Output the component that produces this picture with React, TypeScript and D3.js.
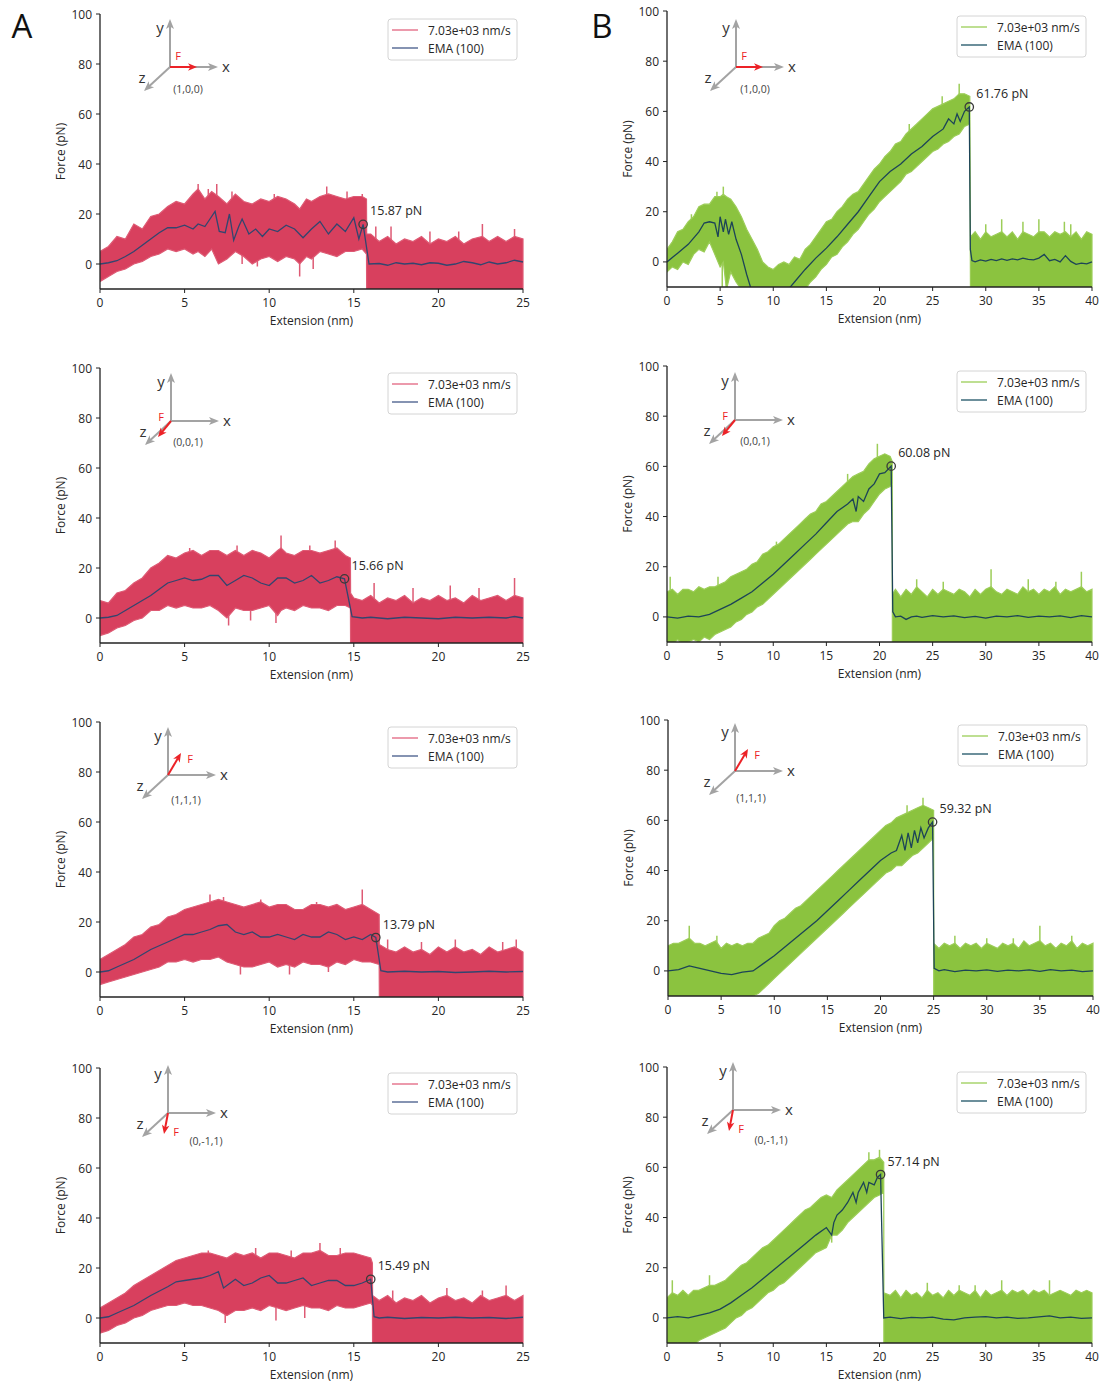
import React from "react";
import * as d3 from "d3";

type Band = [number, number, number][]; // [extension, low, high]
type Pt = [number, number];
type Spike = [number, number, number]; // [extension, base, tip]

// ---------- tick labels ----------
const yTicks = [0, 20, 40, 60, 80, 100];
const xTicksA = [0, 5, 10, 15, 20, 25];
const xTicksB = [0, 5, 10, 15, 20, 25, 30, 35, 40];
const legendLabels = ["7.03e+03 nm/s", "EMA (100)"];

// ---------- peaks [x, force] ----------
const peakA1: Pt = [15.55, 15.87];
const peakA2: Pt = [14.45, 15.66];
const peakA3: Pt = [16.3, 13.79];
const peakA4: Pt = [16.0, 15.49];
const peakB1: Pt = [28.45, 61.76];
const peakB2: Pt = [21.1, 60.08];
const peakB3: Pt = [24.9, 59.32];
const peakB4: Pt = [20.1, 57.14];

// ---------- pulling directions ----------
const dirLabels = ["(1,0,0)", "(0,0,1)", "(1,1,1)", "(0,-1,1)"];

// ---------- noise envelopes ----------
const bandA1: Band = [
  [0,-7,5],[0.5,-5,7],[1,-3,11],[1.5,-2,10],[2,0,16],[2.5,1,14],[3,3,19],[3.5,4,20],[4,6,23],[4.5,5,25],[5,6,24],[5.5,4,28],[5.8,5,30],[6.2,3,26],[6.6,6,29],[7,0,27],[7.5,2,24],[8,5,28],[8.5,3,25],[9,0,24],[9.5,2,26],[10,3,25],[10.5,1,27],[11,3,26],[11.5,2,24],[11.8,0,22],[12.2,3,26],[12.5,2,25],[13,5,27],[13.5,4,28],[14,3,27],[14.5,5,26],[15,5,27],[15.5,6,27],[15.75,4,26],
  [15.76,-11,12],[16,-11,12],[16.5,-11,9],[17,-11,11],[17.5,-11,8],[18,-11,10],[18.5,-11,9],[19,-11,11],[19.5,-11,8],[20,-11,10],[20.5,-11,9],[21,-11,11],[21.5,-11,8],[22,-11,10],[22.6,-11,11],[23,-11,9],[23.5,-11,11],[24,-11,9],[24.5,-11,11],[25,-11,10]
];
const bandA2: Band = [
  [0,-7,7],[0.5,-6,6],[1,-4,10],[1.5,-3,11],[2,-1,14],[2.5,0,16],[3,3,20],[3.5,3,22],[4,5,25],[4.5,4,24],[5,5,26],[5.5,4,27],[6,4,25],[6.5,5,27],[7,3,27],[7.5,0,25],[8,4,27],[8.5,3,25],[9,3,27],[9.5,4,26],[10,5,24],[10.5,1,27],[10.7,3,28],[11,4,26],[11.5,3,25],[12,5,27],[12.5,4,27],[13,4,26],[13.5,3,27],[14,5,28],[14.5,5,25],[14.8,4,24],
  [14.81,-11,10],[15,-11,8],[15.5,-11,7],[16,-11,9],[16.5,-11,6],[17,-11,8],[17.5,-11,7],[18,-11,9],[18.5,-11,6],[19,-11,8],[19.5,-11,7],[20,-11,9],[20.5,-11,7],[21,-11,8],[21.5,-11,6],[22,-11,9],[22.5,-11,7],[23,-11,8],[23.5,-11,9],[24,-11,7],[24.5,-11,9],[25,-11,8]
];
const bandA3: Band = [
  [0,-5,5],[0.5,-4,7],[1,-3,9],[1.5,-2,11],[2,-1,14],[2.5,0,15],[3,1,18],[3.5,2,19],[4,4,22],[4.5,4,23],[5,5,25],[5.5,4,26],[6,5,27],[6.5,5,28],[7,6,29],[7.5,4,28],[8,3,27],[8.5,2,26],[9,2,27],[9.5,3,28],[10,4,26],[10.5,2,27],[11,3,27],[11.5,2,25],[12,4,25],[12.5,3,27],[13,3,27],[13.5,2,26],[14,4,27],[14.5,3,25],[15,5,26],[15.5,4,27],[16,4,25],[16.5,3,23],
  [16.51,-11,11],[17,-11,9],[17.5,-11,8],[18,-11,10],[18.5,-11,8],[19,-11,9],[19.5,-11,7],[20,-11,10],[20.5,-11,8],[21,-11,10],[21.5,-11,8],[22,-11,9],[22.5,-11,7],[23,-11,10],[23.5,-11,8],[24,-11,9],[24.5,-11,10],[25,-11,8]
];
const bandA4: Band = [
  [0,-6,4],[0.5,-5,6],[1,-3,8],[1.5,-2,10],[2,0,13],[2.5,1,15],[3,3,17],[3.5,4,19],[4,5,21],[4.5,5,23],[5,6,24],[5.5,5,25],[6,5,26],[6.5,4,26],[7,3,25],[7.5,1,24],[8,3,26],[8.5,3,25],[9,4,26],[9.5,3,24],[10,5,26],[10.5,4,26],[11,3,25],[11.5,4,24],[12,5,26],[12.5,4,26],[13,4,27],[13.5,3,25],[14,5,25],[14.5,4,26],[15,4,26],[15.5,5,25],[16,6,24],[16.1,5,22],
  [16.11,-11,9],[16.5,-11,7],[17,-11,9],[17.5,-11,6],[18,-11,8],[18.5,-11,7],[19,-11,9],[19.5,-11,6],[20,-11,8],[20.5,-11,9],[21,-11,7],[21.5,-11,8],[22,-11,6],[22.5,-11,9],[23,-11,7],[23.5,-11,8],[24,-11,9],[24.5,-11,7],[25,-11,9]
];
const bandB1: Band = [
  [0,-4,5],[0.5,-2,8],[1,-3,12],[1.5,0,13],[2,-1,16],[2.5,3,18],[3,5,22],[3.5,4,23],[4,8,23],[4.5,3,26],[5,-2,26],[5.3,0,27],[5.6,-11,26],[6,-4,25],[6.5,-8,22],[7,-11,18],[7.5,-11,13],[8,-11,9],[8.5,-11,5],[9,-11,0],[9.5,-11,-2],[10,-11,-3],[10.5,-11,-1],[11,-11,0],[11.5,-11,-1],[12,-11,2],[12.5,-11,1],[13,-11,5],[13.5,-8,7],[14,-6,10],[14.5,-3,13],[15,-1,16],[15.5,2,17],[16,3,20],[16.5,6,22],[17,8,25],[17.5,11,27],[18,13,28],[18.5,16,31],[19,19,34],[19.5,21,37],[20,24,39],[20.5,26,42],[21,28,44],[21.5,30,47],[22,32,48],[22.5,35,51],[23,36,53],[23.5,38,55],[24,40,57],[24.5,42,59],[25,44,61],[25.5,45,62],[26,47,63],[26.5,48,64],[27,50,65],[27.5,51,67],[28,54,67],[28.5,55,66],
  [28.56,-11,10],[29,-11,12],[29.5,-11,9],[30,-11,12],[30.5,-11,10],[31,-11,11],[31.5,-11,12],[32,-11,10],[32.5,-11,12],[33,-11,9],[33.5,-11,12],[34,-11,11],[34.5,-11,10],[35,-11,12],[35.5,-11,12],[36,-11,10],[36.5,-11,12],[37,-11,11],[37.5,-11,12],[38,-11,10],[38.5,-11,12],[39,-11,9],[39.5,-11,12],[40,-11,11]
];
const bandB2: Band = [
  [0,-10,10],[0.5,-11,11],[1,-9,9],[1.5,-11,11],[2,-10,11],[2.5,-9,10],[3,-10,12],[3.5,-8,11],[4,-9,12],[4.5,-7,12],[5,-6,13],[5.5,-5,14],[6,-4,16],[6.5,-2,17],[7,-1,18],[7.5,1,19],[8,2,21],[8.5,4,22],[9,5,25],[9.5,7,26],[10,9,28],[10.5,11,29],[11,13,31],[11.5,15,33],[12,17,35],[12.5,19,37],[13,21,39],[13.5,23,41],[14,25,42],[14.5,27,45],[15,29,46],[15.5,31,48],[16,33,50],[16.5,35,52],[17,37,54],[17.5,38,56],[18,38,57],[18.5,41,58],[19,43,61],[19.5,46,63],[20,49,64],[20.5,51,65],[21,52,64],[21.2,53,62],
  [21.21,-11,9],[21.5,-11,11],[22,-11,8],[22.5,-11,11],[23,-11,9],[23.5,-11,12],[24,-11,10],[24.5,-11,8],[25,-11,11],[25.5,-11,9],[26,-11,11],[26.5,-11,10],[27,-11,9],[27.5,-11,11],[28,-11,10],[28.5,-11,8],[29,-11,11],[29.5,-11,9],[30,-11,11],[30.5,-11,12],[31,-11,10],[31.5,-11,9],[32,-11,11],[32.5,-11,10],[33,-11,9],[33.5,-11,12],[34,-11,10],[34.5,-11,11],[35,-11,9],[35.5,-11,11],[36,-11,10],[36.5,-11,12],[37,-11,9],[37.5,-11,11],[38,-11,10],[38.5,-11,11],[39,-11,12],[39.5,-11,10],[40,-11,11]
];
const bandB3: Band = [
  [0,-11,10],[0.5,-11,11],[1,-11,11],[1.5,-11,12],[2,-11,13],[2.5,-11,11],[3,-11,11],[3.5,-11,10],[4,-11,11],[4.5,-11,12],[5,-11,9],[5.5,-11,11],[6,-11,10],[6.5,-11,11],[7,-11,10],[7.5,-11,11],[8,-10,11],[8.5,-9,13],[9,-7,14],[9.5,-5,15],[10,-3,18],[10.5,-1,20],[11,1,21],[11.5,3,23],[12,5,25],[12.5,7,26],[13,9,28],[13.5,11,30],[14,13,32],[14.5,15,34],[15,17,36],[15.5,19,38],[16,21,40],[16.5,23,42],[17,25,44],[17.5,27,46],[18,29,48],[18.5,31,50],[19,33,52],[19.5,35,54],[20,37,56],[20.5,39,58],[21,40,59],[21.5,42,61],[22,42,62],[22.5,44,63],[23,46,64],[23.5,47,65],[24,49,66],[24.5,51,65],[25,53,64],
  [25.01,-11,11],[25.5,-11,9],[26,-11,11],[26.5,-11,10],[27,-11,11],[27.5,-11,9],[28,-11,11],[28.5,-11,10],[29,-11,11],[29.5,-11,9],[30,-11,11],[30.5,-11,10],[31,-11,9],[31.5,-11,11],[32,-11,10],[32.5,-11,11],[33,-11,9],[33.5,-11,12],[34,-11,10],[34.5,-11,11],[35,-11,12],[35.5,-11,10],[36,-11,11],[36.5,-11,9],[37,-11,11],[37.5,-11,10],[38,-11,12],[38.5,-11,9],[39,-11,11],[39.5,-11,10],[40,-11,11]
];
const bandB4: Band = [
  [0,-11,8],[0.5,-11,10],[1,-10,9],[1.5,-11,11],[2,-10,9],[2.5,-11,11],[3,-9,11],[3.5,-8,12],[4,-7,13],[4.5,-6,13],[5,-5,14],[5.5,-4,15],[6,-2,17],[6.5,0,19],[7,1,21],[7.5,3,22],[8,4,24],[8.5,6,26],[9,8,28],[9.5,10,29],[10,11,31],[10.5,13,33],[11,14,35],[11.5,16,37],[12,18,39],[12.5,20,41],[13,22,43],[13.5,24,44],[14,26,46],[14.5,27,48],[15,28,49],[15.5,33,48],[16,33,51],[16.5,35,53],[17,38,55],[17.5,40,57],[18,42,59],[18.5,44,61],[19,46,63],[19.5,48,63],[20,49,64],[20.4,50,62],
  [20.41,-11,10],[21,-11,9],[21.5,-11,11],[22,-11,8],[22.5,-11,11],[23,-11,9],[23.5,-11,10],[24,-11,8],[24.5,-11,11],[25,-11,9],[25.5,-11,10],[26,-11,8],[26.5,-11,11],[27,-11,9],[27.5,-11,11],[28,-11,10],[28.5,-11,9],[29,-11,11],[29.5,-11,8],[30,-11,11],[30.5,-11,9],[31,-11,10],[31.5,-11,11],[32,-11,9],[32.5,-11,11],[33,-11,10],[33.5,-11,11],[34,-11,9],[34.5,-11,11],[35,-11,10],[35.5,-11,11],[36,-11,9],[36.5,-11,10],[37,-11,11],[37.5,-11,10],[38,-11,9],[38.5,-11,11],[39,-11,10],[39.5,-11,11],[40,-11,10]
];

// ---------- isolated noise spikes [x, base, tip] ----------
const spikesA1: Spike[] = [[5.8,20,32],[6.4,20,30],[6.9,20,32],[7.8,18,29],[10.3,18,28],[13.4,18,31],[14.6,18,29],[15.5,18,28],[11.8,8,-5],[12.6,8,-2],[9.3,8,-1],[8.4,8,0],[16.3,0,15],[17.2,0,15],[19.5,0,13],[22.6,0,16],[24.5,0,14],[21.2,0,13]];
const spikesA2: Spike[] = [[5.3,18,28],[8.1,18,29],[10.7,18,33],[12.4,18,29],[13.9,18,31],[7.6,8,-3],[10.4,8,-2],[8.9,8,-1],[16.2,0,14],[20.7,0,13],[24.5,0,16],[18.5,0,12],[22.4,0,12]];
const spikesA3: Spike[] = [[6.5,18,31],[7.3,18,30],[9.5,18,29],[15.5,18,33],[12.8,18,28],[8.3,8,-1],[11.2,8,-1],[13.5,8,0],[17,0,13],[21,0,13],[23.8,0,12],[19,0,12],[24.6,0,13]];
const spikesA4: Spike[] = [[6.4,18,27],[9.2,18,28],[13,18,30],[14.2,18,28],[11.3,18,27],[7.4,8,-2],[10.4,8,-1],[12.1,8,0],[17.3,0,11],[20.5,0,12],[24,0,13],[22.6,0,11]];
const spikesB1: Spike[] = [[2.3,8,19],[5.3,15,30],[4.7,15,28],[5.2,10,-11],[5.6,10,-11],[27.5,58,71],[25.9,55,66],[22.8,45,55],[31.5,0,17],[35,0,17],[33.5,0,16],[38,0,15],[30,0,15],[37.4,0,16]];
const spikesB2: Spike[] = [[19.8,58,69],[17,48,57],[10.3,20,30],[0.3,0,16],[4.8,0,16],[30.5,0,19],[39,0,18],[26,0,14],[34,0,15],[23.5,0,15],[36.6,0,14]];
const spikesB3: Spike[] = [[2,0,18],[4.6,0,14],[24,58,69],[22.5,52,66],[35,0,18],[27,0,14],[30,0,13],[38,0,14],[32.5,0,13]];
const spikesB4: Spike[] = [[0.5,0,15],[4,0,17],[19,55,66],[20,55,67],[15.5,40,30],[31.5,0,15],[36,0,15],[29,0,13],[24.5,0,14],[27.5,0,13]];

// ---------- EMA (100) traces ----------
const emaA1: Pt[] = [
  [0,0],[0.5,0.5],[1,1.3],[1.5,3],[2,5],[2.5,7.5],[3,10],[3.5,12.5],[4,14.5],[4.5,14.5],[5,15.5],[5.5,14],[5.8,16],[6.2,15],[6.5,18],[6.8,21],[7.05,13],[7.4,12.5],[7.65,20],[7.9,9.5],[8.2,15],[8.4,18],[8.8,12],[9.2,14],[9.6,11],[10,14],[10.5,13],[11,15.5],[11.5,14],[12,10.5],[12.5,14],[13,17],[13.5,12],[14,16],[14.5,13],[15,18.5],[15.3,10],[15.55,15.87],[15.9,0],[16.5,0.2],[17,-0.5],[17.5,0.5],[18,0],[18.5,0.3],[19,-0.3],[19.5,0.5],[20,0.3],[20.5,-0.5],[21,0],[21.5,1],[22,0.5],[22.5,-0.3],[23,0.8],[23.5,0],[24,0.5],[24.5,1.5],[25,0.8]
];
const emaA2: Pt[] = [
  [0,0],[0.5,0.3],[1,1],[1.5,3],[2,5],[2.5,7],[3,9],[3.5,11.5],[4,14],[4.5,15],[5,16],[5.5,15],[6,15.5],[6.5,17],[7,17],[7.5,13],[8,15],[8.5,17],[9,16],[9.5,14],[10,13],[10.5,16],[11,16],[11.5,14],[12,15],[12.5,17],[13,14],[13.5,15],[14,16.5],[14.45,15.66],[14.9,0.5],[15.5,0],[16,0.3],[17,-0.3],[18,0.3],[19,0],[20,-0.3],[21,0.3],[22,0],[23,0.3],[24,0],[24.5,0.6],[25,0]
];
const emaA3: Pt[] = [
  [0,0],[0.5,0.5],[1,2],[1.5,3.5],[2,5],[3,9],[4,12],[5,15],[5.5,15],[6,16],[6.5,17],[7,18.5],[7.5,19],[8,16],[8.5,15],[9,16],[9.5,14],[10,14],[10.5,15],[11,14],[11.5,13],[12,15],[12.5,14],[13,14],[13.5,16],[14,15],[14.5,13],[15,14],[15.5,13],[16,15],[16.3,13.79],[16.6,0.5],[17,0],[18,0.3],[19,0],[20,0.2],[21,-0.2],[22,0],[23,0.3],[24,0],[25,0.2]
];
const emaA4: Pt[] = [
  [0,0],[0.5,0.5],[1,2],[2,5],[3,9],[4,12.5],[4.5,14.5],[5,15],[6,16],[6.5,17],[7,18.5],[7.3,12],[7.7,14],[8,15.5],[8.5,13],[9,14],[9.5,16],[10,17],[10.5,14],[11,14],[11.5,15],[12,16],[12.5,13],[13,14],[13.5,15],[14,15],[14.5,13],[15,13],[15.5,14],[16,15.49],[16.2,0.5],[16.5,0],[17,0.3],[18,-0.2],[19,0.2],[20,0],[21,0.3],[22,0],[23,0.2],[24,-0.2],[25,0.3]
];
const emaB1: Pt[] = [
  [0,0],[1,3.5],[2,7],[3,12],[3.5,15.5],[4,16],[4.5,15.5],[4.8,10],[5,18],[5.3,12],[5.5,17],[5.8,11],[6.1,16],[6.5,9],[7,3],[7.5,-5],[8,-12],[9,-18],[10,-20],[11,-16],[11.6,-10],[12,-8],[13,-3],[14,1.5],[15,5.5],[16,10],[17,15],[18,20],[19,26],[20,32],[21,36],[22,39],[23,43],[24,46],[25,50],[26,53],[26.5,57],[27,55],[27.3,59],[27.6,56],[28,60],[28.45,61.76],[28.55,5],[28.7,0.5],[29,0],[29.5,0.8],[30,0.3],[30.5,1],[31,0.5],[31.5,1.2],[32,0.6],[32.5,1.2],[33,0.8],[33.5,1.5],[34,1],[34.5,0.8],[35,1.5],[35.5,3],[36,0.5],[36.5,1],[37,0],[37.5,2.5],[38,0.2],[38.5,-1],[39,-0.5],[39.5,-0.8],[40,0]
];
const emaB2: Pt[] = [
  [0,0],[1,-0.5],[2,0.3],[3,0],[4,1],[5,3],[6,5],[7,7.5],[8,10],[9,13.5],[10,17],[11,21],[12,25],[13,29],[14,33],[15,37.5],[16,42],[17,45],[17.5,47],[17.8,42],[18,48],[18.5,46],[19,51],[19.5,53],[20,57],[20.5,57.5],[21.1,60.08],[21.25,2],[21.5,0],[22,0.3],[22.5,-1],[23,0],[23.5,0.3],[24,-0.2],[25,0.5],[26,0],[27,0.4],[28,-0.3],[29,0.2],[30,-0.5],[31,0.3],[32,0],[33,0.5],[34,-0.2],[35,0.3],[36,0],[37,0.4],[38,-0.3],[39,0.5],[40,0]
];
const emaB3: Pt[] = [
  [0,0],[1,0.5],[2,2],[3,1],[4,0],[5,-1],[6,-1.5],[7,-0.5],[8,0],[9,3],[10,6],[11,9.5],[12,13],[13,16.5],[14,20],[15,24],[16,28],[17,32],[18,36],[19,40],[20,44],[21,47],[21.5,48],[22,54],[22.3,48],[22.6,55],[22.9,49],[23.2,56],[23.5,51],[23.8,57],[24.1,53],[24.5,57],[24.9,59.32],[25.05,1],[25.5,0],[26,0.5],[27,-0.3],[28,0.3],[29,0],[30,0.4],[31,-0.2],[32,0.3],[33,0],[34,0.4],[35,-0.2],[36,0.5],[37,0],[38,0.3],[39,-0.3],[40,0]
];
const emaB4: Pt[] = [
  [0,0],[1,0.5],[2,0],[3,1],[4,2],[5,3.5],[6,6],[7,9],[8,12],[9,15.5],[10,19],[11,22.5],[12,26],[13,29.5],[14,33],[15,36],[15.5,33],[15.7,38],[16,41],[16.5,43],[17,46],[17.5,50],[17.8,46],[18,50],[18.5,54],[18.8,50],[19,54],[19.5,53],[19.8,56],[20.1,57.14],[20.4,0],[21,0.3],[22,-0.3],[23,0.2],[24,0],[25,0.3],[26,-0.5],[27,-0.8],[28,0],[29,0.3],[30,0.5],[31,0],[32,0.3],[33,-0.2],[34,0],[35,0.4],[36,0.8],[37,0],[38,0.3],[39,-0.2],[40,0]
];

// ---------- layout ----------
type PanelCfg = {
  left: number; top: number; w: number; h: number; xMax: number; xTicks: number[];
  band: Band; spikes: Spike[]; ema: Pt[]; peak: Pt; dir: number; icon: [number, number]; dirOff: [number, number];
  col: "A" | "B";
};
const panels: PanelCfg[] = [
  { col: "A", left: 100, top: 14, w: 423, h: 275, xMax: 25, xTicks: xTicksA, band: bandA1, spikes: spikesA1, ema: emaA1, peak: peakA1, dir: 0, icon: [70, 53], dirOff: [18, 22] },
  { col: "A", left: 100, top: 368, w: 423, h: 275, xMax: 25, xTicks: xTicksA, band: bandA2, spikes: spikesA2, ema: emaA2, peak: peakA2, dir: 1, icon: [71, 53], dirOff: [17, 21] },
  { col: "A", left: 100, top: 722, w: 423, h: 275, xMax: 25, xTicks: xTicksA, band: bandA3, spikes: spikesA3, ema: emaA3, peak: peakA3, dir: 2, icon: [68, 53], dirOff: [18, 25] },
  { col: "A", left: 100, top: 1068, w: 423, h: 275, xMax: 25, xTicks: xTicksA, band: bandA4, spikes: spikesA4, ema: emaA4, peak: peakA4, dir: 3, icon: [68, 45], dirOff: [38, 28] },
  { col: "B", left: 667, top: 11, w: 425, h: 276, xMax: 40, xTicks: xTicksB, band: bandB1, spikes: spikesB1, ema: emaB1, peak: peakB1, dir: 0, icon: [69, 56], dirOff: [19, 22] },
  { col: "B", left: 667, top: 366, w: 425, h: 276, xMax: 40, xTicks: xTicksB, band: bandB2, spikes: spikesB2, ema: emaB2, peak: peakB2, dir: 1, icon: [68, 54], dirOff: [20, 21] },
  { col: "B", left: 668, top: 720, w: 425, h: 276, xMax: 40, xTicks: xTicksB, band: bandB3, spikes: spikesB3, ema: emaB3, peak: peakB3, dir: 2, icon: [67, 51], dirOff: [16, 27] },
  { col: "B", left: 667, top: 1067, w: 425, h: 276, xMax: 40, xTicks: xTicksB, band: bandB4, spikes: spikesB4, ema: emaB4, peak: peakB4, dir: 3, icon: [66, 43], dirOff: [38, 30] },
];

const COLORS = {
  A: { band: "#d8405e", edge: "#de5a74", ema: "#33456f", legBand: "#e67990", legEma: "#5d6f99" },
  B: { band: "#8bc33f", edge: "#9ccd58", ema: "#1c4457", legBand: "#a9d46e", legEma: "#3b6a7a" },
};
// force arrow end + F label offset per direction
const fArrows: { end: [number, number]; lab: [number, number] }[] = [
  { end: [27, 0], lab: [8, -12] },
  { end: [-13, 16], lab: [-10, -5] },
  { end: [13, -22], lab: [22, -17] },
  { end: [-4, 21], lab: [8, 18] },
];

const FONT = "'Open Sans', 'Noto Sans', sans-serif";
const TXT = "#262626";

function Arrow({ x2, y2, color, width = 2, head = 10, hw = 4 }: { x2: number; y2: number; color: string; width?: number; head?: number; hw?: number }) {
  const len = Math.hypot(x2, y2);
  const ux = x2 / len, uy = y2 / len;
  const bx = x2 - ux * head, by = y2 - uy * head;
  const px = -uy, py = ux;
  const pts = `${x2},${y2} ${bx + px * hw},${by + py * hw} ${bx + ux * 2.5},${by + uy * 2.5} ${bx - px * hw},${by - py * hw}`;
  return (
    <g>
      <line x1={0} y1={0} x2={bx + ux * 3} y2={by + uy * 3} stroke={color} strokeWidth={width} />
      <polygon points={pts} fill={color} />
    </g>
  );
}

function Icon({ dir, off }: { dir: number; off: [number, number] }) {
  const gray = "#a3a3a3";
  const red = "#ec2227";
  const f = fArrows[dir];
  return (
    <g>
      <Arrow x2={0} y2={-48} color={gray} />
      <Arrow x2={48} y2={0} color={gray} />
      <Arrow x2={-26} y2={24} color={gray} />
      <Arrow x2={f.end[0]} y2={f.end[1]} color={red} head={9} hw={3.8} />
      <text x={-10} y={-40} fontSize={15} fill="#333" textAnchor="middle" dominantBaseline="central" fontFamily={FONT}>y</text>
      <text x={56} y={-1} fontSize={15} fill="#333" textAnchor="middle" dominantBaseline="central" fontFamily={FONT}>x</text>
      <text x={-28} y={10} fontSize={15} fill="#333" textAnchor="middle" dominantBaseline="central" fontFamily={FONT}>z</text>
      <text x={f.lab[0]} y={f.lab[1]} fontSize={11} fill={red} textAnchor="middle" dominantBaseline="central" fontFamily={FONT}>F</text>
      <text x={off[0]} y={off[1]} fontSize={10.5} fill="#444" textAnchor="middle" dominantBaseline="central" fontFamily={FONT}>{dirLabels[dir]}</text>
    </g>
  );
}

function Panel({ p, idx }: { p: PanelCfg; idx: number }) {
  const x = d3.scaleLinear().domain([0, p.xMax]).range([p.left, p.left + p.w]);
  const y = d3.scaleLinear().domain([-10, 100]).range([p.top + p.h, p.top]);
  const c = COLORS[p.col];
  const area = d3.area<[number, number, number]>().x(d => x(d[0])).y0(d => y(d[1])).y1(d => y(d[2]));
  const line = d3.line<Pt>().x(d => x(d[0])).y(d => y(d[1]));
  const bottom = p.top + p.h;
  const clipId = `clip${idx}`;
  const legX = p.left + p.w - 135;
  const legY = p.top + 5;
  const px = x(p.peak[0]), py = y(p.peak[1]);
  return (
    <g>
      <defs>
        <clipPath id={clipId}>
          <rect x={p.left} y={p.top - 20} width={p.w + 1} height={p.h + 20} />
        </clipPath>
      </defs>
      <g clipPath={`url(#${clipId})`}>
        {p.spikes.map((s, i) => (
          <line key={i} x1={x(s[0])} x2={x(s[0])} y1={y(s[1])} y2={y(s[2])} stroke={c.edge} strokeWidth={1.5} />
        ))}
        <path d={area(p.band) || ""} fill={c.band} stroke={c.edge} strokeWidth={1.2} strokeLinejoin="miter" />
        <path d={line(p.ema) || ""} fill="none" stroke={c.ema} strokeWidth={1.3} />
      </g>
      <circle cx={px} cy={py} r={4.2} fill="none" stroke="#3a3a3a" strokeWidth={1.3} />
      <text x={px + 7} y={py - 9} fontSize={12.5} fill={TXT} fontFamily={FONT}>{p.peak[1].toFixed(2)} pN</text>
      {/* axes */}
      <line x1={p.left} y1={p.top} x2={p.left} y2={bottom} stroke="#222" strokeWidth={1.3} />
      <line x1={p.left} y1={bottom} x2={p.left + p.w} y2={bottom} stroke="#222" strokeWidth={1.3} />
      {yTicks.map(t => (
        <g key={"y" + t}>
          <line x1={p.left - 4} x2={p.left} y1={y(t)} y2={y(t)} stroke="#222" strokeWidth={1} />
          <text x={p.left - 8} y={y(t)} fontSize={12} fill={TXT} textAnchor="end" dominantBaseline="central" fontFamily={FONT}>{t}</text>
        </g>
      ))}
      {p.xTicks.map(t => (
        <g key={"x" + t}>
          <line x1={x(t)} x2={x(t)} y1={bottom} y2={bottom + 4} stroke="#222" strokeWidth={1} />
          <text x={x(t)} y={bottom + 13} fontSize={12} fill={TXT} textAnchor="middle" dominantBaseline="central" fontFamily={FONT}>{t}</text>
        </g>
      ))}
      <text x={p.left + p.w / 2} y={bottom + 31} fontSize={12} fill={TXT} textAnchor="middle" dominantBaseline="central" fontFamily={FONT}>Extension (nm)</text>
      <text transform={`translate(${p.left - 40},${p.top + p.h / 2}) rotate(-90)`} fontSize={12} fill={TXT} textAnchor="middle" dominantBaseline="central" fontFamily={FONT}>Force (pN)</text>
      {/* legend */}
      <rect x={legX} y={legY} width={129} height={41} rx={3} fill="#fff" fillOpacity={0.85} stroke="#d4d4d4" strokeWidth={1} />
      <line x1={legX + 4} x2={legX + 30} y1={legY + 11} y2={legY + 11} stroke={c.legBand} strokeWidth={1.5} />
      <line x1={legX + 4} x2={legX + 30} y1={legY + 29} y2={legY + 29} stroke={c.legEma} strokeWidth={1.5} />
      <text x={legX + 40} y={legY + 11} fontSize={12} fill={TXT} dominantBaseline="central" fontFamily={FONT}>{legendLabels[0]}</text>
      <text x={legX + 40} y={legY + 29} fontSize={12} fill={TXT} dominantBaseline="central" fontFamily={FONT}>{legendLabels[1]}</text>
      <g transform={`translate(${p.left + p.icon[0]},${p.top + p.icon[1]})`}>
        <Icon dir={p.dir} off={p.dirOff} />
      </g>
    </g>
  );
}

export default function App() {
  return (
    <svg width={1104} height={1381} style={{ display: "block", position: "absolute", left: 0, top: 0, background: "#fff" }}>
      <rect width={1104} height={1381} fill="#fff" />
      <text x={22} y={25} fontSize={33} fill="#111" textAnchor="middle" dominantBaseline="central" fontFamily={FONT}>A</text>
      <text x={602} y={25} fontSize={33} fill="#111" textAnchor="middle" dominantBaseline="central" fontFamily={FONT}>B</text>
      {panels.map((p, i) => <Panel key={i} p={p} idx={i} />)}
    </svg>
  );
}
